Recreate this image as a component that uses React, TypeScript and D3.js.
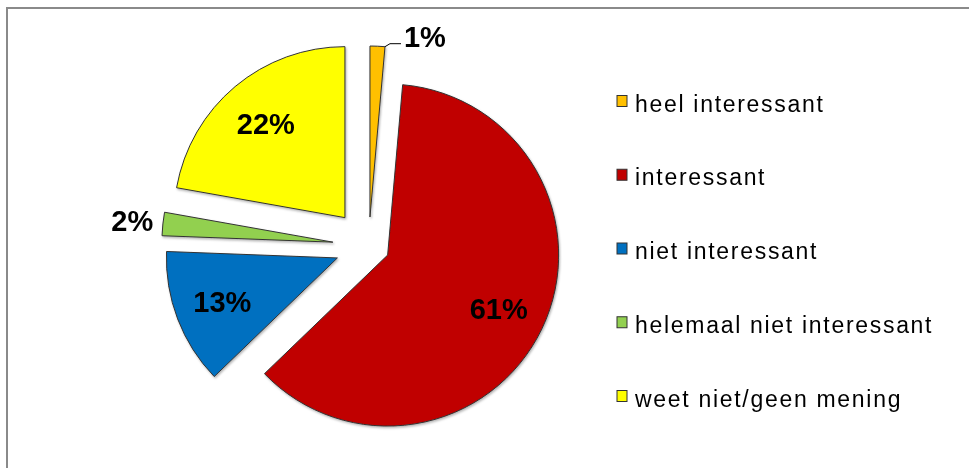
import * as d3 from "d3";
import { useEffect, useRef } from "react";

const categories = [
    "heel interessant",
    "interessant",
    "niet interessant",
    "helemaal niet interessant",
    "weet niet/geen mening",
];
const values = [1.4, 61.4, 12.8, 2.2, 22.2];
const colors = ["#FFC000", "#C00000", "#0070C0", "#92D050", "#FFFF00"];

// how far each slice is pulled out of the pie (px)
const explode = [29, 21, 33.5, 36, 37];

const App = () => {
    const ref = useRef(null);

    useEffect(() => {
        document.body.style.margin = "0";
        const width = 969, height = 468;
        const svg = d3.select(ref.current);
        svg.selectAll("*").remove();

        // frame (only top and left edge show)
        svg.append("rect")
            .attr("x", 7).attr("y", 8)
            .attr("width", width + 20).attr("height", height + 20)
            .attr("fill", "#fff")
            .attr("stroke", "#8a8a8a")
            .attr("stroke-width", 2);

        const defs = svg.append("defs");
        defs.append("filter").attr("id", "shadow")
            .attr("x", "-10%").attr("y", "-10%").attr("width", "120%").attr("height", "120%")
            .append("feDropShadow")
            .attr("dx", 1).attr("dy", 1.5).attr("stdDeviation", 1.2)
            .attr("flood-color", "#000").attr("flood-opacity", 0.3);

        const cx = 368.7, cy = 246, r = 171;
        const pie = d3.pie().sort(null).value((d) => d)(values);
        const arc = d3.arc().innerRadius(0).outerRadius(r);
        const fmt = (v) => Math.round(v) + "%";

        const offset = (d, i) => {
            const mid = (d.startAngle + d.endAngle) / 2;
            return [cx + explode[i] * Math.sin(mid), cy - explode[i] * Math.cos(mid)];
        };

        const g = svg.append("g").attr("filter", "url(#shadow)");
        g.selectAll("path.slice")
            .data(pie)
            .enter()
            .append("path")
            .attr("class", "slice")
            .attr("transform", (d, i) => "translate(" + offset(d, i) + ")")
            .attr("d", arc)
            .attr("fill", (d, i) => colors[i])
            .attr("stroke", "#333")
            .attr("stroke-width", 1)
            .attr("stroke-linejoin", "miter");

        const labels = svg.append("g")
            .style("font-family", "'Liberation Sans', Arial, sans-serif")
            .style("font-weight", "bold")
            .style("font-size", "29px")
            .attr("fill", "#000");

        pie.forEach((d, i) => {
            const [ox, oy] = offset(d, i);
            const mid = (d.startAngle + d.endAngle) / 2;
            const v = values[i];
            if (v >= 5) {
                const rr = r * 0.72;
                labels.append("text")
                    .attr("x", ox + rr * Math.sin(mid))
                    .attr("y", oy - rr * Math.cos(mid))
                    .attr("dy", "0.36em")
                    .attr("text-anchor", "middle")
                    .text(fmt(v));
            } else if (mid > Math.PI) {
                const rr = r * 1.18;
                labels.append("text")
                    .attr("x", ox + rr * Math.sin(mid))
                    .attr("y", oy - rr * Math.cos(mid))
                    .attr("dy", "0.36em")
                    .attr("text-anchor", "middle")
                    .text(fmt(v));
            } else {
                // small slice at the top: label with leader line
                const px = ox + r * Math.sin(d.endAngle), py = oy - r * Math.cos(d.endAngle);
                svg.append("path")
                    .attr("d", "M" + px + "," + py + "L" + (px + 5) + "," + (py - 3) + "L" + (px + 16) + "," + (py - 3))
                    .attr("fill", "none")
                    .attr("stroke", "#000")
                    .attr("stroke-width", 1);
                labels.append("text")
                    .attr("x", px + 19)
                    .attr("y", py)
                    .attr("text-anchor", "start")
                    .text(fmt(v));
            }
        });

        // legend
        const ly = d3.scalePoint().domain(categories).range([101, 396]);
        const legend = svg.append("g");
        legend.selectAll("rect")
            .data(categories)
            .enter()
            .append("rect")
            .attr("x", 617)
            .attr("y", (d) => ly(d) - 5.5)
            .attr("width", 10)
            .attr("height", 11)
            .attr("fill", (d, i) => colors[i])
            .attr("stroke", "#333")
            .attr("stroke-width", 1);
        legend.selectAll("text")
            .data(categories)
            .enter()
            .append("text")
            .attr("x", 635)
            .attr("y", (d) => ly(d) + 10.5)
            .text((d) => d)
            .style("font-family", "'Liberation Sans', Arial, sans-serif")
            .style("font-size", "23px")
            .style("letter-spacing", "1.7px")
            .attr("fill", "#000");
    }, []);

    return <svg ref={ref} width={969} height={468} style={{ display: "block" }} />;
};

export default App;
